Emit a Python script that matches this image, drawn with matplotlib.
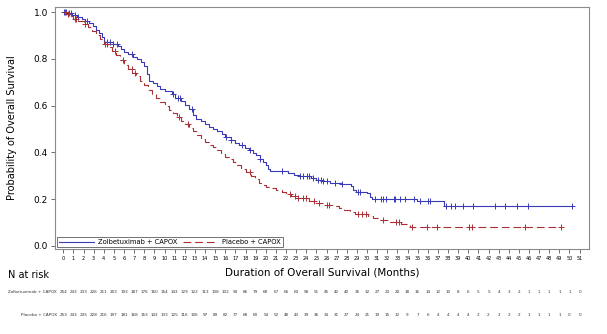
import numpy as np
import matplotlib.pyplot as plt
import matplotlib.transforms as mtransforms

# Kaplan-Meier steps: (event time in months, survival after the drop)
zolb_times = [0.4, 0.9, 1.4, 1.8, 2.1, 2.5, 2.9, 3.2, 3.5, 3.8, 4.0, 4.9, 5.4, 5.7, 6.0,
              6.4, 6.9, 7.3, 7.7, 8.0, 8.3, 8.5, 8.9, 9.3, 9.6, 10.0, 10.7, 11.0, 11.6,
              12.0, 12.4, 12.8, 13.1, 13.6, 14.0, 14.4, 14.8, 15.2, 15.7, 16.0, 16.6,
              17.0, 17.4, 17.9, 18.3, 18.7, 19.0, 19.4, 19.7, 20.0, 20.2, 20.4, 21.0,
              22.2, 22.8, 23.3, 24.5, 25.0, 25.6, 26.3, 27.4, 28.4, 28.6, 28.9, 30.0,
              30.3, 30.5, 34.9, 37.6]
zolb_surv = [0.996, 0.988, 0.980, 0.972, 0.964, 0.955, 0.940, 0.925, 0.910, 0.893, 0.874,
             0.866, 0.855, 0.842, 0.830, 0.822, 0.810, 0.800, 0.785, 0.770, 0.735, 0.705,
             0.695, 0.684, 0.672, 0.664, 0.652, 0.633, 0.620, 0.605, 0.585, 0.560, 0.545,
             0.535, 0.522, 0.510, 0.498, 0.490, 0.478, 0.466, 0.452, 0.440, 0.432, 0.420,
             0.408, 0.398, 0.388, 0.372, 0.360, 0.345, 0.330, 0.322, 0.318, 0.313, 0.305,
             0.300, 0.290, 0.283, 0.277, 0.270, 0.265, 0.255, 0.240, 0.232, 0.225, 0.210,
             0.200, 0.190, 0.170]
zolb_censor = [0.1, 0.3, 0.6, 0.8, 1.2, 1.5, 2.3, 4.3, 4.6, 4.9, 5.3, 6.75, 10.8, 11.3,
               11.5, 12.7, 16.1, 16.6, 17.7, 18.4, 19.4, 21.6, 23.4, 23.7, 24.1, 24.3,
               24.7, 25.2, 25.5, 25.7, 26.0, 26.8, 27.5, 29.1, 29.3, 30.8, 31.4, 31.6,
               31.9, 32.7, 32.8, 33.3, 33.8, 34.6, 35.2, 36.0, 36.2, 37.8, 38.3, 38.7,
               39.5, 40.5, 42.6, 43.6, 44.8, 45.9, 50.2]

plac_times = [0.3, 0.7, 1.0, 1.5, 2.0, 2.4, 2.8, 3.2, 3.6, 4.0, 4.4, 4.8, 5.2, 5.6, 6.0,
              6.4, 6.8, 7.2, 7.6, 8.0, 8.4, 8.8, 9.2, 9.6, 10.0, 10.4, 10.8, 11.2, 11.6,
              12.0, 12.4, 12.8, 13.2, 13.6, 14.0, 14.4, 14.8, 15.2, 15.6, 16.0, 16.4,
              16.8, 17.2, 17.6, 18.0, 18.5, 18.9, 19.3, 19.7, 20.0, 20.5, 21.0, 21.6,
              22.0, 22.5, 23.0, 24.3, 24.9, 25.8, 26.6, 27.2, 27.7, 28.3, 28.8, 30.1,
              30.6, 31.2, 32.3, 33.4, 34.2]
plac_surv = [0.992, 0.984, 0.972, 0.962, 0.950, 0.935, 0.920, 0.902, 0.885, 0.866, 0.850,
             0.835, 0.815, 0.795, 0.775, 0.758, 0.742, 0.725, 0.705, 0.688, 0.668, 0.650,
             0.632, 0.614, 0.597, 0.583, 0.568, 0.552, 0.535, 0.522, 0.505, 0.490, 0.475,
             0.458, 0.445, 0.432, 0.422, 0.408, 0.394, 0.381, 0.370, 0.358, 0.345, 0.330,
             0.316, 0.300, 0.285, 0.270, 0.258, 0.252, 0.246, 0.240, 0.230, 0.222, 0.212,
             0.204, 0.190, 0.182, 0.175, 0.168, 0.160, 0.152, 0.143, 0.134, 0.127, 0.118,
             0.110, 0.103, 0.095, 0.079]
plac_censor = [0.2, 0.5, 1.2, 1.3, 2.1, 4.1, 4.3, 5.1, 5.9, 6.75, 7.1, 11.4, 12.3, 18.4,
               22.4, 22.9, 23.2, 23.7, 24.0, 24.8, 25.3, 26.0, 26.2, 29.1, 29.5, 29.9,
               31.6, 32.9, 33.2, 34.4, 35.9, 36.9, 40.1, 40.4, 45.6, 49.2]

months = list(range(0, 52))
zolb_risk = [254, 243, 233, 226, 211, 203, 193, 187, 176, 160, 154, 143, 129, 122, 113, 108,
             102, 93, 86, 79, 68, 67, 65, 63, 58, 51, 45, 42, 40, 35, 32, 27, 23, 20, 18, 16,
             14, 12, 10, 8, 6, 5, 5, 4, 3, 2, 1, 1, 1, 1, 1, 0]
plac_risk = [253, 243, 235, 228, 216, 197, 181, 168, 153, 143, 133, 125, 116, 106, 97, 89,
             82, 77, 68, 60, 54, 52, 48, 43, 39, 36, 34, 31, 27, 24, 21, 19, 15, 12, 9, 7,
             6, 4, 4, 4, 4, 2, 2, 2, 2, 2, 1, 1, 1, 1, 0, 0]

zolb_label = "Zolbetuximab + CAPOX"
plac_label = "Placebo + CAPOX"
blue = "#3a3ab8"
red = "#ab2f33"


def km_curve(times, surv, censor):
    end = max(censor[-1], times[-1])
    x = np.array([0.0] + times + [end])
    y = np.array([1.0] + surv + [surv[-1]])
    idx = np.searchsorted(np.array(times), np.array(censor), side="right")
    cy = np.array([1.0] + surv)[idx]
    return x, y, np.array(censor), cy


fig = plt.figure(figsize=(6.07, 3.34), dpi=100)
ax = fig.add_axes([0.0906, 0.2545, 0.8793, 0.7245])

zx, zy, zcx, zcy = km_curve(zolb_times, zolb_surv, zolb_censor)
px, py, pcx, pcy = km_curve(plac_times, plac_surv, plac_censor)

ax.step(zx, zy, where="post", color=blue, lw=0.8, label=zolb_label)
ax.plot(zcx, zcy, ls="none", marker="+", ms=5, mew=0.7, color=blue)
ax.step(px, py, where="post", color=red, lw=0.8, dashes=(7, 3.5), label=plac_label)
ax.plot(pcx, pcy, ls="none", marker="+", ms=5, mew=0.7, color=red)

ax.set_xlim(-0.82, 51.9)
ax.set_ylim(-0.0141, 1.0227)
ax.set_xticks(months)
ax.set_xticklabels([str(m) for m in months], fontsize=3.6)
ax.set_yticks([0.0, 0.2, 0.4, 0.6, 0.8, 1.0])
ax.set_yticklabels(["0.0", "0.2", "0.4", "0.6", "0.8", "1.0"], fontsize=6.5)
ax.tick_params(axis="both", length=3, width=0.6, color="#555555", pad=2)
for s in ax.spines.values():
    s.set_color("#8c8c8c")
    s.set_linewidth(0.8)

ax.set_ylabel("Probability of Overall Survival", fontsize=7, labelpad=12)
ax.set_xlabel("Duration of Overall Survival (Months)", fontsize=7.5, labelpad=5)

leg = ax.legend(loc="lower left", ncol=2, fontsize=4.9, frameon=True, fancybox=False,
                borderpad=0.3, handlelength=5.2, handletextpad=0.5, columnspacing=0.9,
                borderaxespad=0.25)
leg.get_frame().set_edgecolor("#333333")
leg.get_frame().set_linewidth(0.6)

# number at risk table
trans = mtransforms.blended_transform_factory(ax.transData, fig.transFigure)
fig.text(0.013, 0.168, "N at risk", fontsize=7)
rows = [(zolb_label, zolb_risk, 0.126), (plac_label, plac_risk, 0.057)]
for label, risk, yy in rows:
    fig.text(0.094, yy, label, fontsize=3.0, ha="right", va="center", color="#333333")
    for m, n in zip(months, risk):
        ax.text(m, yy, str(n), transform=trans, fontsize=3.0, ha="center", va="center",
                color="#333333", clip_on=False)

fig.savefig("out.png", dpi=100)
